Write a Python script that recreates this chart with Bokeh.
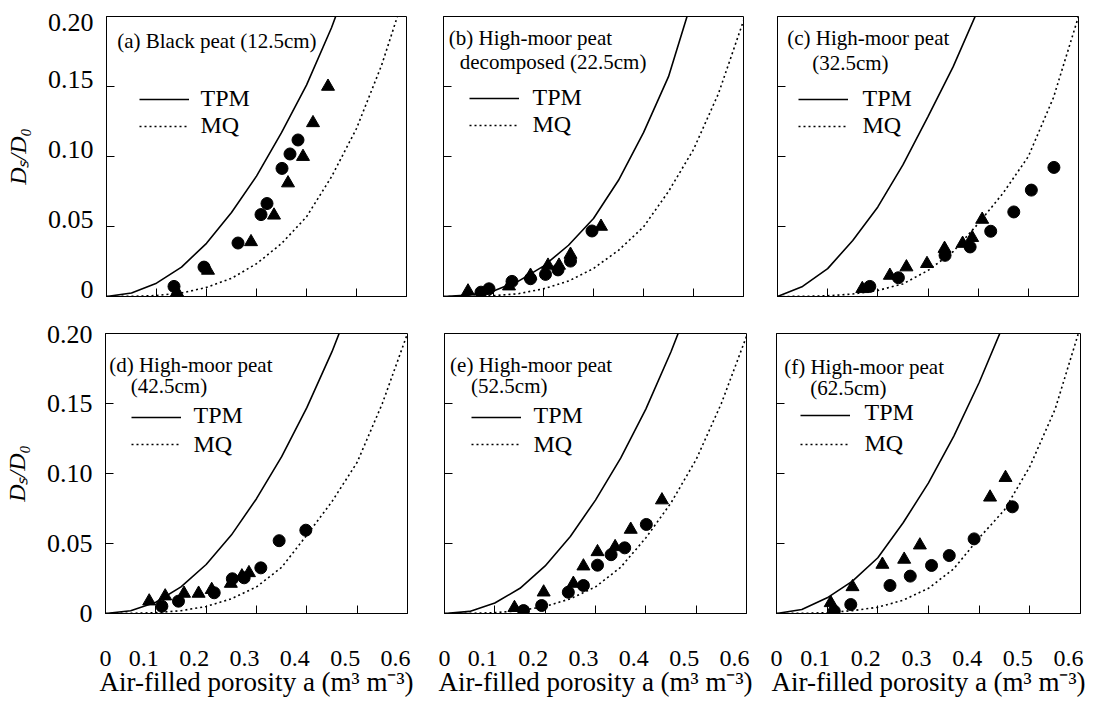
from bokeh.plotting import figure
from bokeh.layouts import column, row
from bokeh.models import Range1d, FixedTicker, Label, Legend, LegendItem, LinearAxis
from bokeh.embed import file_html
from bokeh.resources import INLINE

FONT = "Liberation Serif"

# ---------------- data ----------------
porosity = [0.00, 0.05, 0.10, 0.15, 0.20, 0.25, 0.30, 0.35, 0.40, 0.45, 0.50, 0.55, 0.60]

tpm_a = [0, 0.0025, 0.0095, 0.021, 0.038, 0.060, 0.086, 0.117, 0.151, 0.192, 0.240, 0.290, 0.350]
mq_a = [0, 0.0001, 0.0007, 0.0025, 0.0065, 0.013, 0.0234, 0.0378, 0.0569, 0.0855, 0.120, 0.165, 0.220]
circ_x_a = [0.135, 0.195, 0.263, 0.309, 0.321, 0.351, 0.367, 0.383]
circ_y_a = [0.0072, 0.021, 0.0382, 0.0585, 0.0664, 0.0915, 0.1018, 0.1118]
tri_x_a = [0.141, 0.203, 0.289, 0.335, 0.363, 0.393, 0.413, 0.443]
tri_y_a = [0.003, 0.0186, 0.039, 0.058, 0.081, 0.0999, 0.124, 0.150]

tpm_b = [0, 0.001, 0.004, 0.011, 0.0217, 0.0366, 0.0557, 0.083, 0.117, 0.157, 0.215, 0.270, 0.340]
mq_b = [0, 0.0001, 0.0006, 0.002, 0.0055, 0.011, 0.020, 0.033, 0.0497, 0.075, 0.105, 0.145, 0.197]
circ_x_b = [0.075, 0.091, 0.137, 0.174, 0.204, 0.229, 0.254, 0.297]
circ_y_b = [0.0031, 0.0055, 0.0108, 0.0127, 0.0158, 0.019, 0.0253, 0.0468]
tri_x_b = [0.049, 0.131, 0.174, 0.209, 0.231, 0.254, 0.315]
tri_y_b = [0.0038, 0.0074, 0.015, 0.0222, 0.0222, 0.030, 0.050]

tpm_c = [0, 0.0072, 0.0199, 0.040, 0.064, 0.094, 0.1285, 0.164, 0.205, 0.250, 0.300, 0.360, 0.420]
mq_c = [0, 0.0001, 0.0005, 0.0018, 0.0043, 0.009, 0.0186, 0.032, 0.052, 0.074, 0.100, 0.142, 0.200]
circ_x_c = [0.184, 0.241, 0.334, 0.384, 0.425, 0.471, 0.506, 0.551]
circ_y_c = [0.0072, 0.0134, 0.0294, 0.0354, 0.0466, 0.0604, 0.076, 0.0922]
tri_x_c = [0.169, 0.224, 0.257, 0.298, 0.333, 0.369, 0.388, 0.408]
tri_y_c = [0.0055, 0.015, 0.021, 0.0234, 0.0342, 0.0378, 0.042, 0.055]

tpm_d = [0, 0.002, 0.008, 0.019, 0.035, 0.056, 0.082, 0.112, 0.147, 0.187, 0.233, 0.280, 0.340]
mq_d = [0, 0.0001, 0.0006, 0.002, 0.005, 0.0105, 0.019, 0.033, 0.056, 0.080, 0.108, 0.150, 0.200]
circ_x_d = [0.112, 0.145, 0.216, 0.252, 0.2755, 0.3086, 0.345, 0.398]
circ_y_d = [0.0052, 0.0088, 0.0148, 0.0248, 0.0255, 0.0326, 0.052, 0.0595]
tri_x_d = [0.0868, 0.1186, 0.156, 0.185, 0.211, 0.249, 0.271, 0.285]
tri_y_d = [0.0088, 0.0124, 0.0143, 0.0143, 0.017, 0.0214, 0.0267, 0.029]

tpm_e = [0, 0.0015, 0.0075, 0.018, 0.034, 0.055, 0.081, 0.111, 0.146, 0.187, 0.233, 0.280, 0.340]
mq_e = [0, 0.0001, 0.0006, 0.002, 0.005, 0.0105, 0.019, 0.033, 0.054, 0.079, 0.110, 0.150, 0.198]
circ_x_e = [0.157, 0.193, 0.246, 0.276, 0.304, 0.331, 0.358, 0.401]
circ_y_e = [0.0021, 0.0057, 0.0152, 0.020, 0.0345, 0.042, 0.0469, 0.0636]
tri_x_e = [0.139, 0.197, 0.256, 0.276, 0.304, 0.339, 0.370, 0.432]
tri_y_e = [0.0041, 0.0152, 0.0214, 0.0338, 0.044, 0.0476, 0.060, 0.081]

tpm_f = [0, 0.0029, 0.0112, 0.0231, 0.0398, 0.0648, 0.0933, 0.1267, 0.165, 0.208, 0.260, 0.310, 0.370]
mq_f = [0, 0.0001, 0.0006, 0.002, 0.0045, 0.0095, 0.018, 0.032, 0.054, 0.074, 0.105, 0.146, 0.205]
circ_x_f = [0.114, 0.1466, 0.224, 0.264, 0.306, 0.341, 0.390, 0.4655]
circ_y_f = [0.0017, 0.0064, 0.020, 0.0267, 0.0343, 0.0414, 0.0533, 0.0762]
tri_x_f = [0.107, 0.150, 0.209, 0.252, 0.283, 0.4215, 0.452]
tri_y_f = [0.0076, 0.019, 0.035, 0.0386, 0.0488, 0.083, 0.097]

title_a = ["(a) Black peat (12.5cm)"]
title_b = ["(b) High-moor peat", "decomposed (22.5cm)"]
title_c = ["(c) High-moor peat", "(32.5cm)"]
title_d = ["(d) High-moor peat", "(42.5cm)"]
title_e = ["(e) High-moor peat", "(52.5cm)"]
title_f = ["(f) High-moor peat", "(62.5cm)"]

legend_labels = ["TPM", "MQ"]
x_tick_values = [0.0, 0.1, 0.2, 0.3, 0.4, 0.5, 0.6]
x_tick_labels = ["0", "0.1", "0.2", "0.3", "0.4", "0.5", "0.6"]
y_tick_values = [0.0, 0.05, 0.10, 0.15, 0.20]
y_tick_labels = ["0", "0.05", "0.10", "0.15", "0.20"]
x_title = "Air-filled porosity a (m\u00b3 m\u207b\u00b3)"
y_title = "D\u209b/D\u2080"

# ---------------- layout / style (pixels) ----------------
FH = 280
XMAX, YMAX = 0.6, 0.2
ROW_TOP = dict(tb=16, bb=19, lab_dy=[7.5, 7.5, 7.5, 7.5, -6], ytitle_c=176)
ROW_BOT = dict(tb=18, bb=88, lab_dy=[0, 0, 0, 0, -1], ytitle_c=155)

SPEC = {
    "a": dict(fw=300, lb=106, rb=18, tl=[(10.7, 24)], lg=(33, 11, -2, 81.7)),
    "b": dict(fw=300, lb=19, rb=16, tl=[(5.3, 21.5), (16.3, 45.7)], lg=(26, 13, -2, 80.7)),
    "c": dict(fw=301, lb=18, rb=18, tl=[(9.7, 21.5), (34.7, 46.5)], lg=(21, 14, -2, 81.7)),
    "d": dict(fw=302, lb=103, rb=18, tl=[(3.7, 31), (25.3, 52)], lg=(26, 12, 0, 81)),
    "e": dict(fw=302, lb=19, rb=15, tl=[(5.6, 31), (26.6, 52)], lg=(27, 12, 0, 81)),
    "f": dict(fw=304, lb=15, rb=18, tl=[(7.7, 33), (33.7, 54.5)], lg=(24, 14, 2, 78.7)),
}
ROW_H = 29
DIGIT_W = {"0": 500, "1": 500, "2": 500, "3": 500, "4": 500, "5": 500, "6": 500, ".": 250}


def txt(text, x, y, size):
    return Label(x=x, y=y, x_units="screen", y_units="screen", text=text,
                 text_font=FONT, text_font_size=f"{size}px", text_color="black",
                 text_align="left", text_baseline="middle")


def label_axis(positions, labels, size, standoff, title, title_size, title_style, title_standoff):
    pos = [round(v, 6) for v in positions]
    return LinearAxis(ticker=FixedTicker(ticks=pos),
                      major_label_overrides={v: lab for v, lab in zip(pos, labels)},
                      axis_line_color=None, major_tick_line_color=None,
                      minor_tick_line_color=None, major_tick_in=0, major_tick_out=0,
                      major_label_standoff=standoff, major_label_text_font=FONT,
                      major_label_text_font_size=f"{size}px", major_label_text_color="black",
                      axis_label=title, axis_label_text_font=FONT,
                      axis_label_text_font_size=f"{title_size}px",
                      axis_label_text_font_style=title_style,
                      axis_label_text_color="black", axis_label_standoff=title_standoff)


def make_panel(key, rowg, tpm, mq, cx, cy, tx, ty, title, left_col, bottom_row):
    s = SPEC[key]
    p = figure(frame_width=s["fw"], frame_height=FH, title=None,
               min_border_left=s["lb"], min_border_right=s["rb"],
               min_border_top=rowg["tb"], min_border_bottom=rowg["bb"],
               x_range=Range1d(0, XMAX), y_range=Range1d(0, YMAX),
               toolbar_location=None, output_backend="svg")
    p.xgrid.visible = False
    p.ygrid.visible = False
    p.outline_line_color = "black"
    p.outline_line_width = 1
    p.xaxis.ticker = FixedTicker(ticks=x_tick_values)
    p.yaxis.ticker = FixedTicker(ticks=y_tick_values)
    for ax in (p.xaxis[0], p.yaxis[0]):
        ax.major_tick_in = 8
        ax.major_tick_out = 0
        ax.minor_tick_line_color = None
        ax.major_label_text_font_size = "1px"
        ax.major_label_text_color = None
        ax.major_label_standoff = 0
        ax.axis_line_color = "black"
        ax.major_tick_line_color = "black"

    r_tpm = p.line(porosity, tpm, line_color="black", line_width=1.6)
    r_mq = p.line(porosity, mq, line_color="black", line_width=1.6, line_dash="2 3")
    p.scatter(cx, cy, marker="circle", size=12, fill_color="black", line_color="black")
    p.scatter(tx, ty, marker="triangle", size=13, fill_color="black", line_color="black")

    vx, standoff, spacing, tpm_c = s["lg"]
    vy = FH - tpm_c - 1.5 * ROW_H - spacing
    legend = Legend(items=[LegendItem(label=legend_labels[0], renderers=[r_tpm]),
                           LegendItem(label=legend_labels[1], renderers=[r_mq])],
                    location=(vx, vy), orientation="vertical",
                    glyph_width=50, glyph_height=20, label_height=20,
                    label_standoff=standoff, spacing=spacing, padding=0, margin=0,
                    label_text_font=FONT, label_text_font_size="24px",
                    label_text_color=None,
                    background_fill_alpha=0, border_line_alpha=0)
    p.add_layout(legend)
    lx = vx + 50 + standoff
    p.add_layout(txt(legend_labels[0], lx, FH - tpm_c, 24))
    p.add_layout(txt(legend_labels[1], lx, FH - tpm_c - ROW_H - spacing, 24))

    for (dx, dy), line in zip(s["tl"], title):
        p.add_layout(txt(line, dx, FH - dy, 21))

    if left_col:
        upp = YMAX / FH
        pos = [t + d * upp for t, d in zip(y_tick_values, rowg["lab_dy"])]
        yax = label_axis(pos, y_tick_labels, 26, 13, y_title, 24, "italic", 14)
        c = rowg["ytitle_c"] * upp
        lo = min(pos)
        yax.bounds = (lo, 2 * c - lo)
        p.add_layout(yax, "left")

    if bottom_row:
        upp = XMAX / s["fw"]
        pos = []
        for t, lab in zip(x_tick_values, x_tick_labels):
            w = sum(DIGIT_W[ch] for ch in lab) * 24 / 1000.0
            pos.append(max(0.0, t + (3 - w / 2) * upp))
        xax = label_axis(pos, x_tick_labels, 24, 37, x_title, 27, "normal", -2)
        p.add_layout(xax, "below")
    return p


pa = make_panel("a", ROW_TOP, tpm_a, mq_a, circ_x_a, circ_y_a, tri_x_a, tri_y_a, title_a, True, False)
pb = make_panel("b", ROW_TOP, tpm_b, mq_b, circ_x_b, circ_y_b, tri_x_b, tri_y_b, title_b, False, False)
pc = make_panel("c", ROW_TOP, tpm_c, mq_c, circ_x_c, circ_y_c, tri_x_c, tri_y_c, title_c, False, False)
pd = make_panel("d", ROW_BOT, tpm_d, mq_d, circ_x_d, circ_y_d, tri_x_d, tri_y_d, title_d, True, True)
pe = make_panel("e", ROW_BOT, tpm_e, mq_e, circ_x_e, circ_y_e, tri_x_e, tri_y_e, title_e, False, True)
pf = make_panel("f", ROW_BOT, tpm_f, mq_f, circ_x_f, circ_y_f, tri_x_f, tri_y_f, title_f, False, True)

layout = column(row(pa, pb, pc, spacing=0), row(pd, pe, pf, spacing=0), spacing=0)
open("out.html", "w").write(file_html(layout, INLINE))
